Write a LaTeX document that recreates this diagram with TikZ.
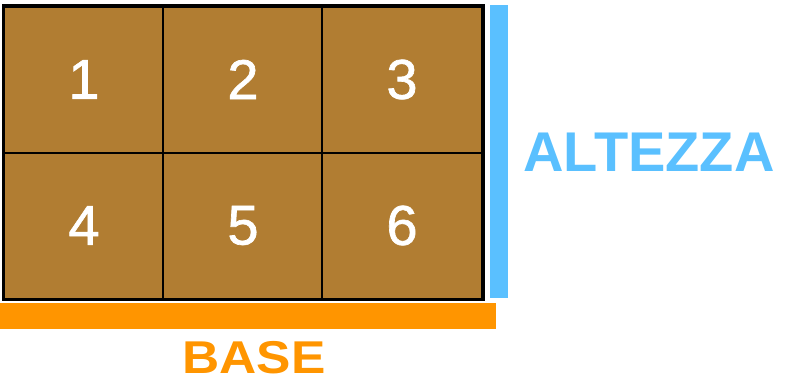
\documentclass[tikz,border=0pt]{standalone}
\usepackage{fontspec}
\setmainfont{Liberation Sans}
\newfontfamily\numfont[FakeBold=1.2]{Liberation Sans}
\definecolor{cork}{RGB}{177,125,50}
\definecolor{altblue}{RGB}{90,192,255}
\definecolor{baseorange}{RGB}{255,149,0}
\begin{document}
\begin{tikzpicture}[x=1pt,y=-1pt,
  cell/.style={draw=black,line width=2pt,fill=cork,minimum width=160pt,minimum height=146pt,inner sep=0pt,anchor=north west,
    font=\numfont\fontsize{56}{60}\selectfont,text=white},
  label/.style={font=\fontsize{56}{60}\bfseries\selectfont,inner sep=0pt}]
\useasboundingbox (0,0) rectangle (793,391);
\node[cell] (c1) at (3,5.5) {1};
\node[cell] (c2) at (162,5.5) {2};
\node[cell] (c3) at (321,5.5) {3};
\node[cell] (c4) at (3,151.5) {4};
\node[cell] (c5) at (162,151.5) {5};
\node[cell] (c6) at (321,151.5) {6};
\draw[line width=3pt] (c1.north west) rectangle (c6.south east);
\fill[altblue] (490,5) rectangle (507.5,297.5);
\fill[baseorange] (0,303) rectangle (495.5,328.5);
\node[label,text=altblue] (alt) at (649,152) {ALTEZZA};
\node[label,text=baseorange,xscale=1.12,font=\fontsize{46}{50}\bfseries\selectfont] (base) at (254,357.5) {BASE};
\end{tikzpicture}
\end{document}
